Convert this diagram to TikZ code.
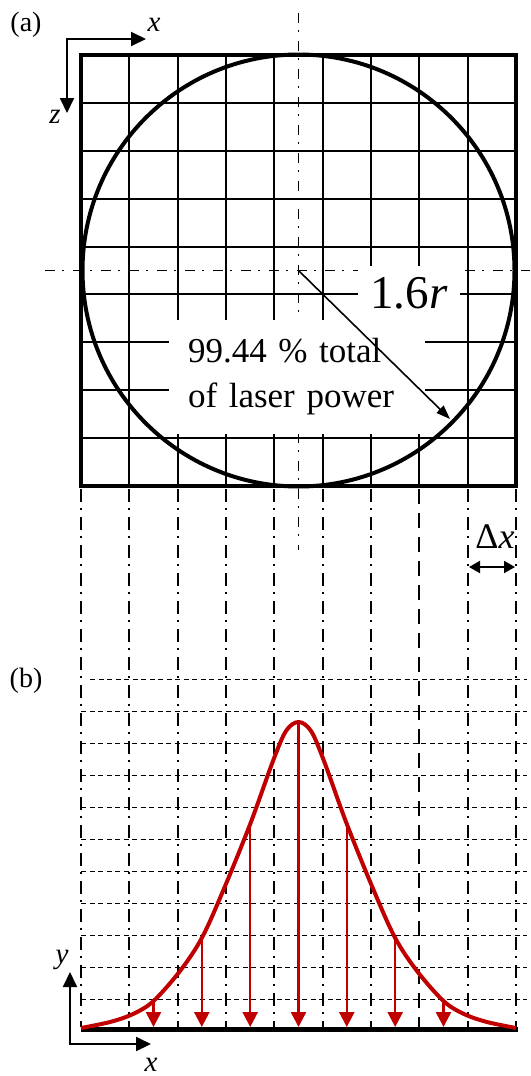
\documentclass[tikz,border=0pt]{standalone}
\usepackage{fontspec}
\setmainfont{Liberation Serif}
\usetikzlibrary{arrows.meta,calc}
\definecolor{cred}{RGB}{192,0,0}
\begin{document}
\begin{tikzpicture}[x=1pt,y=-1pt,
  gridline/.style={line width=2pt},
  borderline/.style={line width=4.2pt},
  centerline/.style={line width=1.8pt, dash pattern=on 10pt off 7pt on 2pt off 9pt},
  dropline/.style={line width=2.2pt, dash pattern=on 13pt off 6pt on 2pt off 7pt},
  dropdash/.style={line width=2.2pt, dash pattern=on 15pt off 9pt},
  levelline/.style={line width=1pt, dash pattern=on 5pt off 3.5pt},
  axisarrows/.style={line width=2pt, {Triangle[length=15pt,width=14pt]}-{Triangle[length=15pt,width=14pt]}},
  redarrow/.style={cred, line width=2.5pt, -{Triangle[length=15pt,width=15pt]}},
  lbl/.style={inner sep=0pt, font=\fontsize{28}{30}\selectfont},
  axlbl/.style={inner sep=0pt, font=\fontsize{29}{30}\selectfont\itshape},
]
\useasboundingbox (0,0) rectangle (530,1076);

% ---------- part (a) ----------
\foreach \i in {1,...,8} \draw[gridline] ({81+\i*48.333},55) -- ({81+\i*48.333},486);
\foreach \j in {1,...,8} \draw[gridline] (81,{55+\j*47.889}) -- (516,{55+\j*47.889});

\draw[centerline] (298.5,13) -- (298.5,550);
\draw[centerline] (45,270.5) -- (530,270.5);

\draw[line width=4pt] (298.5,270.5) circle[radius=216];
\draw[borderline] (81,55) rectangle (516,486);

\node[fill=white, inner sep=0pt, minimum width=102pt, minimum height=54pt,
      font=\fontsize{47}{50}\selectfont] (rlabel) at (409,293) {1.6\textit{r}};
\node[fill=white, inner xsep=19pt, inner ysep=0pt, text width=218pt, minimum height=114pt,
      align=left, font=\fontsize{35}{45}\selectfont] (powerlabel) at (297,377)
      {99.44 \% total\\of laser power};

\coordinate (ctr) at (298.5,270.5);
\coordinate (rim) at (450,419);
\draw[line width=1.6pt, -{Triangle[length=14pt,width=10pt]}] (ctr) -- (rim);

\coordinate (oa) at (67,39);
\coordinate (xa) at (146,39);
\coordinate (za) at (67,113);
\draw[axisarrows] (za) -- (oa) -- (xa);
\node[axlbl] (xlabA) at (154,25) {x};
\node[axlbl] (zlabA) at (55,117) {z};
\node[lbl] (alab) at (26,25) {(a)};

% ---------- connecting / part (b) grid ----------
\foreach \i in {0,1,2,3,4,5,6,8,9} \draw[dropline] ({81+\i*48.333},489) -- ({81+\i*48.333},1027);
\draw[dropdash] ({81+7*48.333},489) -- ({81+7*48.333},1027);
\draw[levelline] (90,679) -- (527,679);
\foreach \k in {1,...,10} \draw[levelline] (81,{679+\k*32}) -- (527,{679+\k*32});

\node[inner sep=0pt, font=\fontsize{36}{38}\selectfont] (dxlab) at (495,537) {Δ\textit{x}};
\coordinate (dxl) at (469,567);
\coordinate (dxr) at (515,567);
\draw[line width=2pt, {Triangle[length=11pt,width=12pt]}-{Triangle[length=11pt,width=12pt]}] (dxl) -- (dxr);

\node[lbl] (blab) at (26,681) {(b)};

% ---------- part (b) ----------
\coordinate (bl) at (81,1029);
\coordinate (br) at (518,1029);
\draw[line width=5pt] (bl) -- (br);

\draw[cred, line width=4pt] plot[smooth, tension=0.55] coordinates {
  (81,1028) (110,1022) (133,1014) (153.5,1001) (180,971) (201.8,938) (223,891)
  (250.2,824) (273,761) (286,731) (298.5,722) (311,731) (324,761) (346.8,824)
  (374,891) (395.2,938) (417,971) (443.5,1001) (464,1014) (487,1022) (516,1028)};

\foreach \xx/\yy in {153.5/1001, 201.8/938, 250.2/824, 298.5/724, 346.8/824, 395.2/938, 443.5/1001}
  \draw[redarrow] (\xx,\yy) -- (\xx,1027);

\coordinate (ob) at (70,1044);
\coordinate (xb) at (151,1044);
\coordinate (yb) at (70,972);
\draw[axisarrows] (yb) -- (ob) -- (xb);
\node[axlbl] (ylabB) at (62,960) {y};
\node[axlbl] (xlabB) at (151,1065) {x};
\end{tikzpicture}
\end{document}
